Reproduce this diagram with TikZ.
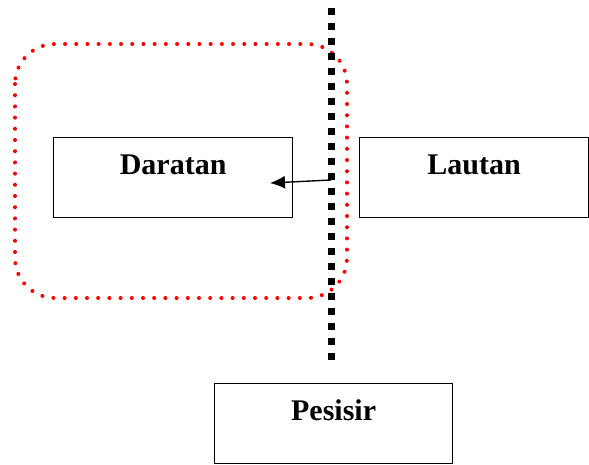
\documentclass[tikz,border=0pt]{standalone}
\usepackage{fontspec}
\setmainfont{Liberation Serif}
\usepackage{tikz}
\usetikzlibrary{arrows.meta}

\tikzset{kotak/.style={draw,line width=1.3pt,rectangle,inner sep=0pt,anchor=north west,
                       minimum height=80pt,text height=37pt,text depth=43pt,
                       font=\fontsize{30}{32}\selectfont\bfseries}}

\begin{document}
\begin{tikzpicture}[x=1pt,y=-1pt]
                      \useasboundingbox (0,0) rectangle (589,464);
                      % kawasan daratan (garis titik merah)
                      \draw[red,line width=4pt,line cap=round,dash pattern=on 0pt off 11.2pt,rounded corners=40pt]
                            (15,44) rectangle (347,298);
                      % garis batas pantai
                      \draw[black,line width=7pt,dash pattern=on 7pt off 8pt] (331,8) -- (331,362);
                      \node[kotak,minimum width=239pt](a)at(53,137){Daratan};
                      \node[kotak,minimum width=229pt](b)at(359,137){Lautan};
                      \node[kotak,minimum width=238pt](c)at(214,383){Pesisir};
                      \coordinate (p) at (331,180);
                      \coordinate (q) at (270,183);
                      \draw[-{Latex[length=15pt,width=13pt]},line width=1.4pt,black](p)--(q);
                  \end{tikzpicture}
\end{document}
